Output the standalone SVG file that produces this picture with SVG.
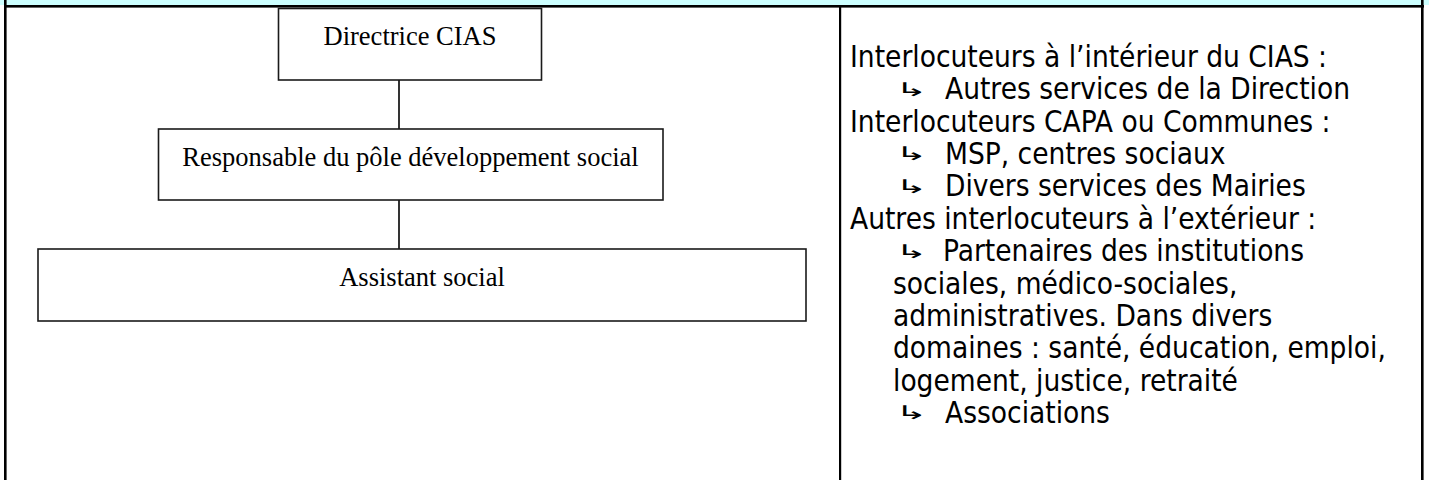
<svg xmlns="http://www.w3.org/2000/svg" width="1429" height="480" viewBox="0 0 1429 480">
<style>
.bg{fill:#ffffff}
.band{fill:#ccffff}
.rule{fill:#000000}
.node rect{fill:#ffffff;stroke:#1a1a1a;stroke-width:1.6}
.node text{font-family:"Liberation Serif","Times New Roman",serif;font-size:26.5px;text-anchor:middle;fill:#000000}
.conn line{stroke:#000000;stroke-width:1.6}
.side{font-family:"DejaVu Sans Condensed","DejaVu Sans",sans-serif;font-size:29.5px;fill:#000000}
.arr{font-family:"DejaVu Sans Condensed","DejaVu Sans",sans-serif;font-size:27px;fill:#000000}
</style>
<rect class="bg" x="0" y="0" width="1429" height="480"/>
<g id="frame">
  <rect class="band" x="0" y="0" width="1429" height="5"/>
  <rect class="rule" x="4" y="5" width="1420" height="2.6"/>
  <rect class="rule" x="4" y="0" width="2.6" height="480"/>
  <rect class="rule" x="1421" y="0" width="2.6" height="480"/>
  <rect class="rule" x="839" y="5" width="2.2" height="475"/>
</g>
<g id="connectors" class="conn">
  <line x1="399" y1="80" x2="399" y2="129"/>
  <line x1="399" y1="200" x2="399" y2="249"/>
</g>
<g id="node-directrice" class="node">
  <rect x="278.5" y="8.5" width="263" height="71.5"/>
  <text x="410" y="45">Directrice CIAS</text>
</g>
<g id="node-responsable" class="node">
  <rect x="158.5" y="129" width="504.5" height="71"/>
  <text x="410.5" y="166">Responsable du pôle développement social</text>
</g>
<g id="node-assistant" class="node">
  <rect x="38" y="249" width="768" height="72"/>
  <text x="422" y="286">Assistant social</text>
</g>
<g id="interlocuteurs">
  <text class="side" x="850" y="67">Interlocuteurs à l’intérieur du CIAS :</text>
  <text class="arr" transform="translate(895,95.7) scale(1.6,0.7)">↳</text>
  <text class="side" x="945" y="99.4">Autres services de la Direction</text>
  <text class="side" x="850" y="131.7">Interlocuteurs CAPA ou Communes :</text>
  <text class="arr" transform="translate(895,160.4) scale(1.6,0.7)">↳</text>
  <text class="side" x="945" y="164.1">MSP, centres sociaux</text>
  <text class="arr" transform="translate(895,192.7) scale(1.6,0.7)">↳</text>
  <text class="side" x="945" y="196.4">Divers services des Mairies</text>
  <text class="side" x="850" y="228.8">Autres interlocuteurs à l’extérieur :</text>
  <text class="arr" transform="translate(895,257.5) scale(1.6,0.7)">↳</text>
  <text class="side" x="943" y="261.2">Partenaires des institutions</text>
  <text class="side" x="893" y="293.5">sociales, médico-sociales,</text>
  <text class="side" x="893" y="325.9">administratives. Dans divers</text>
  <text class="side" x="893" y="358.2">domaines : santé, éducation, emploi,</text>
  <text class="side" x="893" y="390.6">logement, justice, retraité</text>
  <text class="arr" transform="translate(895,419.3) scale(1.6,0.7)">↳</text>
  <text class="side" x="945" y="423">Associations</text>
</g>
</svg>
